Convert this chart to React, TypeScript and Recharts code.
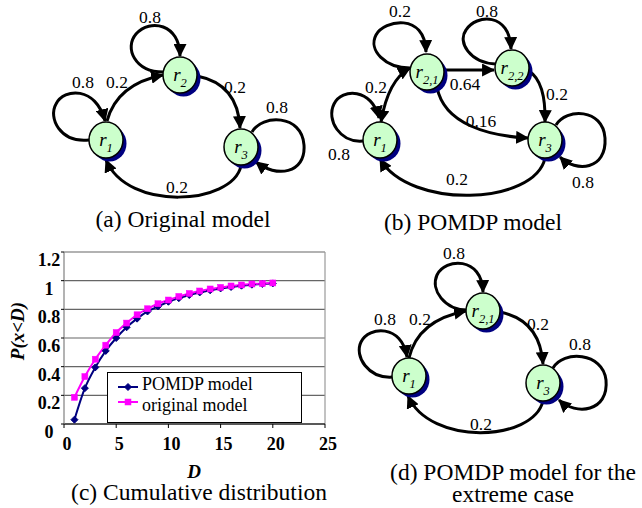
import React from 'react';
import { LineChart, Line, XAxis, YAxis, CartesianGrid, Legend, ReferenceLine } from 'recharts';

// ---------- data for panel (c) ----------
const dValues = [1, 2, 3, 4, 5, 6, 7, 8, 9, 10, 11, 12, 13, 14, 15, 16, 17, 18, 19, 20];
const pomdpValues = [0.03, 0.25, 0.395, 0.51, 0.6, 0.675, 0.735, 0.785, 0.82, 0.853, 0.878, 0.9, 0.918, 0.933, 0.946, 0.956, 0.965, 0.972, 0.977, 0.981];
const originalValues = [0.186, 0.331, 0.452, 0.55, 0.638, 0.704, 0.762, 0.804, 0.839, 0.865, 0.89, 0.911, 0.928, 0.942, 0.953, 0.963, 0.97, 0.977, 0.98, 0.984];
const xTicks = [0, 5, 10, 15, 20, 25];
const yTicks = [0, 0.2, 0.4, 0.6, 0.8, 1, 1.2];
const seriesNames = ['POMDP model', 'original model'];
const captions = ['(a) Original model', '(b) POMDP model', '(c) Cumulative distribution', '(d) POMDP model for the', 'extreme case'];

const chartData = dValues.map((d, i) => ({ d, pomdp: pomdpValues[i], original: originalValues[i] }));

const FONT = '"Liberation Serif", "Times New Roman", serif';
const NAVY = '#000080';
const MAGENTA = '#FF00FF';

const DiamondDot = (props: any) => {
  const { cx, cy } = props;
  if (cx == null || cy == null) return null;
  const s = 3.5;
  return <path d={`M${cx},${cy - s} L${cx + s},${cy} L${cx},${cy + s} L${cx - s},${cy} Z`} fill={NAVY} stroke={NAVY} strokeWidth={1} />;
};

const SquareDot = (props: any) => {
  const { cx, cy } = props;
  if (cx == null || cy == null) return null;
  const s = 3;
  return <rect x={cx - s} y={cy - s} width={2 * s} height={2 * s} fill={MAGENTA} stroke={MAGENTA} strokeWidth={0.5} />;
};

const YTick = (props: any) => {
  const { x, y, payload } = props;
  return (
    <text x={x - 10} y={y + 14} textAnchor="middle" fontFamily={FONT} fontSize={18} fontWeight="bold" fill="#000">
      {payload.value}
    </text>
  );
};

const XTick = (props: any) => {
  const { x, y, payload } = props;
  return (
    <text x={x + 3} y={y + 20} textAnchor="middle" fontFamily={FONT} fontSize={18} fontWeight="bold" fill="#000">
      {payload.value}
    </text>
  );
};

const LegendBox = (props: any) => {
  const payload = props.payload && props.payload.length ? props.payload : seriesNames.map((n, i) => ({ value: n, color: i === 0 ? NAVY : MAGENTA }));
  return (
    <svg width={195} height={51} style={{ display: 'block' }}>
      <rect x={0.5} y={0.5} width={194} height={50} fill="#fff" stroke="#000" strokeWidth={1} />
      {payload.map((p: any, i: number) => {
        const ly = i === 0 ? 15 : 30;
        const ty = i === 0 ? 18 : 39;
        return (
          <g key={i}>
            <line x1={11} x2={31} y1={ly} y2={ly} stroke={p.color} strokeWidth={2} />
            {i === 0 ? <DiamondDot cx={21} cy={ly} /> : <SquareDot cx={21} cy={ly} />}
            <text x={35} y={ty} fontFamily={FONT} fontSize={18} fill="#000">{p.value}</text>
          </g>
        );
      })}
    </svg>
  );
};

// ---------- diagram helpers ----------
const Node = ({ cx, cy, sub }: { cx: number; cy: number; sub: string }) => (
  <g>
    <ellipse cx={cx + 3.5} cy={cy + 3.5} rx={17} ry={18} fill={NAVY} />
    <ellipse cx={cx} cy={cy} rx={17} ry={18} fill="#ccffcc" stroke="#000" strokeWidth={1.5} />
    <text x={cx} y={cy + 6} textAnchor="middle" fontFamily={FONT} fontStyle="italic" fontSize={19} fill="#000">
      r<tspan fontSize={12.5} dy={6}>{sub}</tspan>
    </text>
  </g>
);

const Edge = ({ d, start = false, end = true }: { d: string; start?: boolean; end?: boolean }) => (
  <path d={d} fill="none" stroke="#000" strokeWidth={3} markerEnd={end ? 'url(#arrowHead)' : undefined} markerStart={start ? 'url(#arrowHead)' : undefined} />
);

const Lbl = ({ x, y, t }: { x: number; y: number; t: string }) => (
  <text x={x} y={y} textAnchor="middle" fontFamily={FONT} fontSize={17.5} fill="#000">{t}</text>
);

const Caption = ({ x, y, t }: { x: number; y: number; t: string }) => (
  <text x={x} y={y} textAnchor="middle" fontFamily={FONT} fontSize={23.5} fill="#000">{t}</text>
);

export default function App() {
  return (
    <div style={{ position: 'absolute', left: 0, top: 0, width: 642, height: 508, background: '#fff', overflow: 'hidden' }}>
      <div style={{ position: 'absolute', left: 0, top: 240 }}>
        <LineChart width={340} height={268} data={chartData} margin={{ top: 12, right: 15, left: 0, bottom: 0 }}>
          <CartesianGrid vertical={false} stroke="#666" strokeWidth={1.2} />
          <XAxis
            dataKey="d"
            type="number"
            domain={[0, 25]}
            ticks={xTicks}
            interval={0}
            height={84}
            tickSize={4}
            tickMargin={2}
            axisLine={{ stroke: '#000', strokeWidth: 1.2 }}
            tickLine={{ stroke: '#000' }}
            tick={<XTick />}
          />
          <YAxis
            type="number"
            domain={[0, 1.2]}
            ticks={yTicks}
            interval={0}
            width={64}
            tickSize={3}
            tickMargin={2}
            axisLine={{ stroke: '#808080', strokeWidth: 1.2 }}
            tickLine={{ stroke: '#000' }}
            tick={<YTick />}
          />
          <ReferenceLine x={25} stroke="#999" strokeWidth={1.2} />
          <Line
            type="monotone"
            dataKey="pomdp"
            name={seriesNames[0]}
            stroke={NAVY}
            strokeWidth={2}
            dot={<DiamondDot />}
            isAnimationActive={false}
          />
          <Line
            type="monotone"
            dataKey="original"
            name={seriesNames[1]}
            stroke={MAGENTA}
            strokeWidth={2}
            dot={<SquareDot />}
            isAnimationActive={false}
          />
          <Legend
            layout="vertical"
            align="center"
            verticalAlign="middle"
            content={<LegendBox />}
            wrapperStyle={{ position: 'absolute', left: 107, top: 132, width: 195, height: 51 }}
          />
        </LineChart>
      </div>

      <svg width={642} height={508} style={{ position: 'absolute', left: 0, top: 0, pointerEvents: 'none' }}>
        <defs>
          <marker id="arrowHead" viewBox="0 0 12 12" refX={11} refY={6} markerWidth={13} markerHeight={13} markerUnits="userSpaceOnUse" orient="auto-start-reverse">
            <path d="M0,0 L12,6 L0,12 Z" fill="#000" />
          </marker>
        </defs>

        {/* (a) Original model */}
        <Edge d="M89,140 C60,143 48,118 56,104 C64,88 96,86 105,121" />
        <Edge d="M107,121 Q117,84 163,75" />
        <Edge d="M163,72 C135,72 124,48 136,34 C150,18 180,24 180,56" />
        <Edge d="M197,76 Q238,84 240,128" />
        <Edge d="M252,132 C262,114 302,114 304,145 C306,174 276,178 256,162" />
        <Edge d="M241,166 C232,205 128,212 106,160" />
        <Node cx={106} cy={140} sub="1" />
        <Node cx={180} cy={75} sub="2" />
        <Node cx={241} cy={147} sub="3" />
        <Lbl x={83} y={88} t="0.8" />
        <Lbl x={117} y={88} t="0.2" />
        <Lbl x={150} y={23} t="0.8" />
        <Lbl x={235} y={93} t="0.2" />
        <Lbl x={277} y={113} t="0.8" />
        <Lbl x={177} y={193} t="0.2" />
        <Caption x={183} y={227} t={captions[0]} />

        {/* (b) POMDP model */}
        <Edge d="M410,68 C385,68 368,50 376,35 C384,20 425,12 426,52" />
        <Edge d="M381,122 Q388,80 410,68" start />
        <Edge d="M363,141 C340,143 326,120 334,104 C342,88 372,88 379,118" />
        <Edge d="M444,70 L494,70" />
        <Edge d="M437,87 C444,125 490,136 528,138" />
        <Edge d="M496,64 C470,63 457,42 466,30 C476,14 510,12 511,49" />
        <Edge d="M529,71 Q546,82 545,122" />
        <Edge d="M556,125 C566,108 603,108 605,138 C607,170 576,173 560,157" />
        <Edge d="M545,158 C535,205 410,210 380,159" />
        <Node cx={380} cy={140} sub="1" />
        <Node cx={427} cy={72} sub="2,1" />
        <Node cx={512} cy={68} sub="2,2" />
        <Node cx={545} cy={140} sub="3" />
        <Lbl x={400} y={17} t="0.2" />
        <Lbl x={376} y={93} t="0.2" />
        <Lbl x={339} y={160} t="0.8" />
        <Lbl x={465} y={90} t="0.64" />
        <Lbl x={481} y={127} t="0.16" />
        <Lbl x={487} y={17} t="0.8" />
        <Lbl x={557} y={100} t="0.2" />
        <Lbl x={583} y={188} t="0.8" />
        <Lbl x={457} y={185} t="0.2" />
        <Caption x={473} y={230} t={captions[1]} />

        {/* (c) texts */}
        <text x={17} y={331} textAnchor="middle" dominantBaseline="central" transform="rotate(-90 17 331)" fontFamily={FONT} fontSize={19} fontWeight="bold" fontStyle="italic" fill="#000">P(x&lt;D)</text>
        <text x={194} y={478} textAnchor="middle" fontFamily={FONT} fontSize={19} fontWeight="bold" fontStyle="italic" fill="#000">D</text>
        <Caption x={199} y={500} t={captions[2]} />

        {/* (d) POMDP model for the extreme case */}
        <Edge d="M467,310 C445,310 430,290 437,275 C445,258 482,256 483,292" />
        <Edge d="M409,358 Q418,320 466,311" />
        <Edge d="M393,377 C368,379 354,356 361,342 C369,326 402,324 407,357" />
        <Edge d="M500,312 Q540,320 543,364" />
        <Edge d="M553,368 C563,350 603,352 606,380 C609,412 576,416 559,400" />
        <Edge d="M543,401 C533,442 430,446 408,396" />
        <Node cx={409} cy={376} sub="1" />
        <Node cx={483} cy={311} sub="2,1" />
        <Node cx={543} cy={383} sub="3" />
        <Lbl x={454} y={259} t="0.8" />
        <Lbl x={385} y={325} t="0.8" />
        <Lbl x={420} y={325} t="0.2" />
        <Lbl x={538} y={330} t="0.2" />
        <Lbl x={580} y={350} t="0.8" />
        <Lbl x={481} y={430} t="0.2" />
        <Caption x={513} y={480} t={captions[3]} />
        <Caption x={513} y={502} t={captions[4]} />
      </svg>
    </div>
  );
}
